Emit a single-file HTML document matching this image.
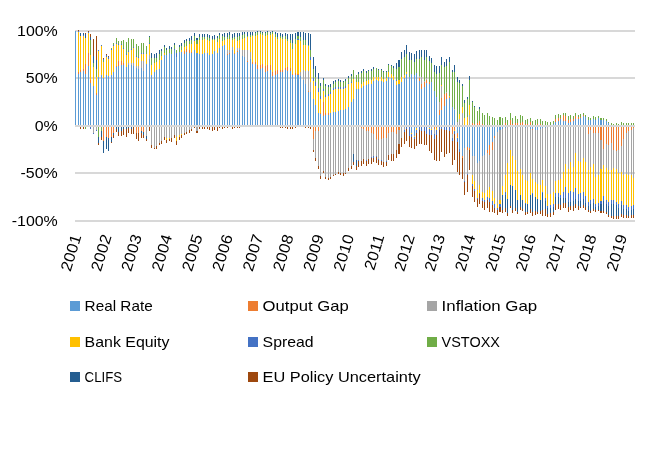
<!DOCTYPE html>
<html><head><meta charset="utf-8"><title>Chart</title>
<style>html,body{margin:0;padding:0;background:#fff}svg{display:block}</style></head>
<body>
<svg width="665" height="449" viewBox="0 0 665 449">
<rect width="665" height="449" fill="#fff"/>
<g fill="#D8D8D8">
<rect x="75" y="30" width="560" height="2"/>
<rect x="75" y="77" width="560" height="2"/>
<rect x="75" y="172" width="560" height="2"/>
<rect x="75" y="220" width="560" height="2"/>
</g>
<path fill="#5B9BD5" d="M75 31h1V125h-1zM78 74h1V125h-1zM80 72h1V125h-1zM83 71h1V125h-1zM85 74h1V125h-1zM88 66h1V125h-1zM90 83h1V125h-1zM93 86h1V125h-1zM96 95h1V125h-1zM98 77h1V125h-1zM101 75h1V125h-1zM103 78h1V125h-1zM106 75h1V125h-1zM108 76h1V125h-1zM111 75h1V125h-1zM113 72h1V125h-1zM116 67h1V125h-1zM118 66h1V125h-1zM121 65h1V125h-1zM123 65h1V125h-1zM126 67h1V125h-1zM128 65h1V125h-1zM131 65h1V125h-1zM133 66h1V125h-1zM136 68h1V125h-1zM138 69h1V125h-1zM141 68h1V125h-1zM143 71h1V125h-1zM146 64h1V125h-1zM149 59h1V125h-1zM151 75h1V125h-1zM154 72h1V125h-1zM156 70h1V125h-1zM159 69h1V125h-1zM161 60h1V125h-1zM164 55h1V125h-1zM166 55h1V125h-1zM169 53h1V125h-1zM171 54h1V125h-1zM174 50h1V125h-1zM176 57h1V125h-1zM179 52h1V125h-1zM181 52h1V125h-1zM184 54h1V125h-1zM186 52h1V125h-1zM189 53h1V125h-1zM191 53h1V125h-1zM194 50h1V125h-1zM196 53h2V125h-2zM199 54h1V125h-1zM202 54h1V125h-1zM204 53h1V125h-1zM207 53h1V125h-1zM209 55h1V125h-1zM212 54h1V125h-1zM214 51h1V125h-1zM217 53h1V125h-1zM219 48h1V125h-1zM222 46h1V125h-1zM224 45h1V125h-1zM227 55h1V125h-1zM229 54h1V125h-1zM232 50h1V125h-1zM234 54h1V125h-1zM237 52h1V125h-1zM239 50h1V125h-1zM242 56h1V125h-1zM244 57h1V125h-1zM247 62h1V125h-1zM250 59h1V125h-1zM252 64h1V125h-1zM255 64h1V125h-1zM257 69h1V125h-1zM260 69h1V125h-1zM262 68h1V125h-1zM265 72h1V125h-1zM267 71h1V125h-1zM270 70h1V125h-1zM272 76h1V125h-1zM275 75h1V125h-1zM277 74h1V125h-1zM280 72h1V125h-1zM282 72h1V125h-1zM285 70h1V125h-1zM287 71h1V125h-1zM290 71h1V125h-1zM292 75h1V125h-1zM295 75h1V125h-1zM297 75h2V125h-2zM300 76h1V125h-1zM303 80h1V125h-1zM305 84h1V125h-1zM308 92h1V125h-1zM310 92h1V125h-1zM313 99h1V125h-1zM315 105h1V125h-1zM318 113h1V125h-1zM320 114h1V125h-1zM323 116h1V125h-1zM325 115h1V125h-1zM328 115h1V125h-1zM330 113h1V125h-1zM333 112h1V125h-1zM335 112h1V125h-1zM338 111h1V125h-1zM340 110h1V125h-1zM343 110h1V125h-1zM345 109h1V125h-1zM348 107h1V125h-1zM351 102h1V125h-1zM353 99h1V125h-1zM356 89h1V125h-1zM358 89h1V125h-1zM361 88h1V125h-1zM363 86h1V125h-1zM366 85h1V125h-1zM368 84h1V125h-1zM371 84h1V125h-1zM373 81h1V125h-1zM376 80h1V125h-1zM378 81h1V125h-1zM381 81h1V125h-1zM383 82h1V125h-1zM386 81h1V125h-1zM388 77h1V125h-1zM391 78h1V125h-1zM393 80h1V125h-1zM396 85h1V125h-1zM398 84h2V125h-2zM401 82h1V125h-1zM404 78h1V125h-1zM406 74h1V125h-1zM409 77h1V125h-1zM411 74h1V125h-1zM411 127h1V133h-1zM414 75h1V125h-1zM414 127h1V136h-1zM416 73h1V125h-1zM416 127h1V128h-1zM419 81h1V125h-1zM421 89h1V125h-1zM424 87h1V125h-1zM426 83h1V125h-1zM429 84h1V125h-1zM429 127h1V128h-1zM431 82h1V125h-1zM434 91h1V125h-1zM436 97h1V125h-1zM439 115h1V125h-1zM441 110h1V125h-1zM444 106h1V125h-1zM446 99h1V125h-1zM449 98h1V125h-1zM452 107h1V125h-1zM454 110h1V125h-1zM457 127h1V133h-1zM459 127h1V149h-1zM462 127h1V156h-1zM464 127h1V148h-1zM467 127h1V147h-1zM469 127h1V148h-1zM472 127h1V156h-1zM474 127h1V156h-1zM477 127h1V163h-1zM479 127h1V161h-1zM482 127h1V156h-1zM484 127h1V155h-1zM487 127h1V150h-1zM489 127h1V145h-1zM492 127h1V142h-1zM494 127h1V136h-1zM497 127h1V132h-1zM499 127h2V130h-2zM502 127h1V129h-1zM505 127h1V128h-1zM515 127h1V128h-1zM525 127h1V128h-1zM530 127h1V129h-1zM532 127h1V129h-1zM535 127h1V130h-1zM537 127h1V130h-1zM540 127h1V129h-1zM542 127h1V128h-1zM545 127h1V128h-1zM553 124h1V125h-1zM555 122h1V125h-1zM558 121h1V125h-1zM560 119h1V125h-1zM563 121h1V125h-1zM565 121h1V125h-1zM568 123h1V125h-1zM570 122h1V125h-1zM573 121h1V125h-1zM575 119h1V125h-1zM578 119h1V125h-1zM580 118h1V125h-1zM583 116h1V125h-1zM585 117h1V125h-1zM588 120h1V125h-1zM590 120h1V125h-1zM593 119h1V125h-1zM595 120h1V125h-1zM598 118h1V125h-1zM600 120h2V125h-2zM603 120h1V125h-1zM606 121h1V125h-1zM608 123h1V125h-1z"/>
<path fill="#ED7D31" d="M78 72h1V74h-1zM80 70h1V72h-1zM83 69h1V71h-1zM85 64h1V74h-1zM88 53h1V66h-1zM90 80h1V83h-1zM96 93h1V95h-1zM103 127h1V141h-1zM106 127h1V137h-1zM108 127h1V138h-1zM111 127h1V137h-1zM113 127h1V133h-1zM116 66h1V67h-1zM118 61h1V66h-1zM121 61h1V65h-1zM123 63h1V65h-1zM136 127h1V133h-1zM138 127h1V133h-1zM141 127h1V131h-1zM143 127h1V132h-1zM184 51h1V54h-1zM186 49h1V52h-1zM189 50h1V53h-1zM191 52h1V53h-1zM227 54h1V55h-1zM229 53h1V54h-1zM234 53h1V54h-1zM237 51h1V52h-1zM247 61h1V62h-1zM252 62h1V64h-1zM255 62h1V64h-1zM257 65h1V69h-1zM260 65h1V69h-1zM262 64h1V68h-1zM265 66h1V72h-1zM267 65h1V71h-1zM270 65h1V70h-1zM272 72h1V76h-1zM275 71h1V75h-1zM277 70h1V74h-1zM280 70h1V72h-1zM282 70h1V72h-1zM285 68h1V70h-1zM287 67h1V71h-1zM290 68h1V71h-1zM292 74h1V75h-1zM295 73h1V75h-1zM297 74h2V75h-2zM308 91h1V92h-1zM313 127h1V139h-1zM315 127h1V131h-1zM318 127h1V131h-1zM320 113h1V114h-1zM323 102h1V116h-1zM325 113h1V115h-1zM328 113h1V115h-1zM361 127h1V128h-1zM363 127h1V129h-1zM366 127h1V131h-1zM368 127h1V131h-1zM371 127h1V133h-1zM373 127h1V134h-1zM376 127h1V139h-1zM378 127h1V140h-1zM381 127h1V139h-1zM383 127h1V138h-1zM386 127h1V138h-1zM388 127h1V133h-1zM391 127h1V132h-1zM393 127h1V132h-1zM396 127h1V134h-1zM398 127h2V130h-2zM419 78h1V81h-1zM421 84h1V89h-1zM424 82h1V87h-1zM426 80h1V83h-1zM429 82h1V84h-1zM434 127h1V129h-1zM436 127h1V128h-1zM439 110h1V115h-1zM441 98h1V110h-1zM444 94h1V106h-1zM446 93h1V99h-1zM449 97h1V98h-1zM452 127h1V134h-1zM454 127h1V130h-1zM457 133h1V137h-1zM462 156h1V158h-1zM467 147h1V150h-1zM469 148h1V150h-1zM472 123h1V125h-1zM474 124h1V125h-1zM477 123h1V125h-1zM479 121h1V125h-1zM482 124h1V125h-1zM487 150h1V153h-1zM489 145h1V155h-1zM492 142h1V150h-1zM494 136h1V138h-1zM505 123h1V125h-1zM510 120h1V125h-1zM512 124h1V125h-1zM515 123h1V125h-1zM517 123h1V125h-1zM520 123h1V125h-1zM522 122h1V125h-1zM525 124h1V125h-1zM527 124h1V125h-1zM530 122h1V125h-1zM532 129h1V130h-1zM537 124h1V125h-1zM540 124h1V125h-1zM555 119h1V122h-1zM558 118h1V121h-1zM560 118h1V119h-1zM563 115h1V121h-1zM565 116h1V121h-1zM568 120h1V123h-1zM570 119h1V122h-1zM573 119h1V121h-1zM575 116h1V119h-1zM578 117h1V119h-1zM580 117h1V118h-1zM583 115h1V116h-1zM588 127h1V134h-1zM590 127h1V130h-1zM593 127h1V133h-1zM595 127h1V133h-1zM598 127h1V133h-1zM600 127h2V140h-2zM603 127h1V149h-1zM606 127h1V144h-1zM608 127h1V145h-1zM611 127h1V143h-1zM613 127h1V150h-1zM616 127h1V151h-1zM618 127h1V150h-1zM621 127h1V146h-1zM623 127h1V139h-1zM626 127h1V133h-1zM628 127h1V131h-1zM631 127h1V130h-1zM633 127h1V128h-1z"/>
<path fill="#A5A5A5" d="M93 127h1V133h-1zM96 127h1V130h-1zM128 63h1V65h-1zM131 63h1V65h-1zM133 63h1V66h-1zM136 66h1V68h-1zM138 66h1V69h-1zM141 61h1V68h-1zM143 61h1V71h-1zM146 127h1V136h-1zM149 55h1V59h-1zM151 127h1V145h-1zM154 127h1V148h-1zM156 127h1V146h-1zM159 127h1V143h-1zM161 127h1V141h-1zM164 127h1V137h-1zM166 127h1V138h-1zM169 127h1V138h-1zM171 127h1V138h-1zM174 127h1V135h-1zM176 127h1V137h-1zM179 127h1V135h-1zM181 127h1V134h-1zM184 127h1V133h-1zM186 127h1V132h-1zM189 127h1V130h-1zM191 127h1V129h-1zM196 127h2V131h-2zM227 50h1V54h-1zM229 50h1V53h-1zM232 47h1V50h-1zM237 48h1V51h-1zM239 48h1V50h-1zM242 50h1V56h-1zM244 50h1V57h-1zM247 50h1V61h-1zM250 52h1V59h-1zM300 72h1V76h-1zM303 70h1V80h-1zM305 71h1V84h-1zM308 71h1V91h-1zM310 82h1V92h-1zM313 139h1V150h-1zM315 131h1V158h-1zM318 131h1V166h-1zM320 127h1V176h-1zM323 127h1V171h-1zM325 127h1V177h-1zM328 127h1V178h-1zM330 127h1V177h-1zM333 127h1V175h-1zM335 127h1V174h-1zM338 127h1V172h-1zM340 127h1V173h-1zM343 127h1V173h-1zM345 127h1V173h-1zM348 127h1V168h-1zM351 127h1V166h-1zM353 127h1V154h-1zM356 127h1V160h-1zM358 127h1V160h-1zM361 128h1V161h-1zM363 129h1V159h-1zM366 131h1V160h-1zM368 131h1V159h-1zM371 133h1V157h-1zM373 134h1V156h-1zM376 139h1V156h-1zM378 140h1V159h-1zM381 139h1V160h-1zM383 138h1V162h-1zM386 138h1V161h-1zM388 133h1V155h-1zM391 132h1V154h-1zM393 132h1V154h-1zM396 134h1V150h-1zM398 130h2V144h-2zM401 127h1V138h-1zM404 127h1V130h-1zM419 76h1V78h-1zM421 77h1V84h-1zM424 81h1V82h-1zM426 78h1V80h-1zM431 127h1V129h-1zM434 129h1V134h-1zM439 102h1V110h-1zM441 86h1V98h-1zM446 92h1V93h-1zM452 134h1V138h-1zM454 109h1V110h-1zM457 122h1V125h-1zM459 119h1V125h-1zM462 113h1V125h-1zM464 148h1V181h-1zM467 150h1V174h-1zM469 115h1V125h-1zM472 156h1V175h-1zM474 156h1V181h-1zM477 163h1V190h-1zM479 161h1V185h-1zM482 156h1V192h-1zM484 155h1V193h-1zM487 153h1V190h-1zM489 155h1V187h-1zM492 150h1V191h-1zM494 138h1V198h-1zM497 132h1V204h-1zM499 130h2V200h-2zM502 129h1V186h-1zM505 128h1V175h-1zM507 127h1V163h-1zM510 127h1V150h-1zM512 127h1V156h-1zM515 128h1V160h-1zM517 127h1V171h-1zM520 127h1V169h-1zM522 127h1V175h-1zM525 128h1V180h-1zM527 127h1V181h-1zM530 129h1V173h-1zM532 130h1V179h-1zM535 130h1V182h-1zM537 130h1V184h-1zM540 129h1V185h-1zM542 128h1V180h-1zM545 128h1V186h-1zM547 127h1V194h-1zM550 127h1V194h-1zM553 127h1V192h-1zM555 127h1V181h-1zM558 127h1V180h-1zM560 127h1V179h-1zM563 127h1V172h-1zM565 127h1V164h-1zM568 127h1V169h-1zM570 127h1V162h-1zM573 127h1V167h-1zM575 127h1V153h-1zM578 127h1V161h-1zM580 127h1V162h-1zM583 127h1V158h-1zM585 127h1V162h-1zM588 134h1V170h-1zM590 130h1V167h-1zM593 133h1V164h-1zM595 133h1V177h-1zM598 133h1V175h-1zM600 140h2V169h-2zM603 149h1V165h-1zM606 144h1V168h-1zM608 145h1V170h-1zM611 143h1V170h-1zM613 150h1V168h-1zM616 151h1V169h-1zM618 150h1V173h-1zM621 146h1V172h-1zM623 139h1V175h-1zM626 133h1V174h-1zM628 131h1V175h-1zM631 130h1V175h-1zM633 128h1V178h-1z"/>
<path fill="#FFC000" d="M78 32h1V72h-1zM80 36h1V70h-1zM83 36h1V69h-1zM85 38h1V64h-1zM88 33h1V53h-1zM90 55h1V80h-1zM93 67h1V86h-1zM96 77h1V93h-1zM98 51h1V77h-1zM101 46h1V75h-1zM103 62h1V78h-1zM106 57h1V75h-1zM108 59h1V76h-1zM111 50h1V75h-1zM113 46h1V72h-1zM116 44h1V66h-1zM118 45h1V61h-1zM121 45h1V61h-1zM123 49h1V63h-1zM126 55h1V67h-1zM128 52h1V63h-1zM131 50h1V63h-1zM133 48h1V63h-1zM136 57h1V66h-1zM138 58h1V66h-1zM141 54h1V61h-1zM143 54h1V61h-1zM146 54h1V64h-1zM149 44h1V55h-1zM151 65h1V75h-1zM154 63h1V72h-1zM156 62h1V70h-1zM159 60h1V69h-1zM161 56h1V60h-1zM164 53h1V55h-1zM166 138h1V140h-1zM169 138h1V139h-1zM176 137h1V141h-1zM179 135h1V137h-1zM181 50h1V52h-1zM181 134h1V135h-1zM184 47h1V51h-1zM186 46h1V49h-1zM189 44h1V50h-1zM191 44h1V52h-1zM194 41h1V50h-1zM196 44h2V53h-2zM199 40h1V54h-1zM202 40h1V54h-1zM204 39h1V53h-1zM207 40h1V53h-1zM209 41h1V55h-1zM212 40h1V54h-1zM214 40h1V51h-1zM217 42h1V53h-1zM219 39h1V48h-1zM222 41h1V46h-1zM224 40h1V45h-1zM227 39h1V50h-1zM229 39h1V50h-1zM232 40h1V47h-1zM234 39h1V53h-1zM237 41h1V48h-1zM239 40h1V48h-1zM242 39h1V50h-1zM244 38h1V50h-1zM247 37h1V50h-1zM250 37h1V52h-1zM252 36h1V62h-1zM255 36h1V62h-1zM257 35h1V65h-1zM260 34h1V65h-1zM262 35h1V64h-1zM265 36h1V66h-1zM267 35h1V65h-1zM270 35h1V65h-1zM272 34h1V72h-1zM275 37h1V71h-1zM277 39h1V70h-1zM280 38h1V70h-1zM282 39h1V70h-1zM285 39h1V68h-1zM287 41h1V67h-1zM290 43h1V68h-1zM292 49h1V74h-1zM295 44h1V73h-1zM297 40h2V74h-2zM300 41h1V72h-1zM303 45h1V70h-1zM305 45h1V71h-1zM308 46h1V71h-1zM310 60h1V82h-1zM313 81h1V99h-1zM315 86h1V105h-1zM318 92h1V113h-1zM320 99h1V113h-1zM323 91h1V102h-1zM325 97h1V113h-1zM328 96h1V113h-1zM330 94h1V113h-1zM333 90h1V112h-1zM335 89h1V112h-1zM338 89h1V111h-1zM340 89h1V110h-1zM343 89h1V110h-1zM345 88h1V109h-1zM348 84h1V107h-1zM351 83h1V102h-1zM353 79h1V99h-1zM356 82h1V89h-1zM358 82h1V89h-1zM361 84h1V88h-1zM363 82h1V86h-1zM366 81h1V85h-1zM368 80h1V84h-1zM371 80h1V84h-1zM373 77h1V81h-1zM376 77h1V80h-1zM378 77h1V81h-1zM381 77h1V81h-1zM383 79h1V82h-1zM386 78h1V81h-1zM388 72h1V77h-1zM391 74h1V78h-1zM393 76h1V80h-1zM396 81h1V85h-1zM398 80h2V84h-2zM401 77h1V82h-1zM404 75h1V78h-1zM406 72h1V74h-1zM411 133h1V134h-1zM414 136h1V137h-1zM416 128h1V130h-1zM429 128h1V129h-1zM431 129h1V130h-1zM436 128h1V130h-1zM441 85h1V86h-1zM449 96h1V97h-1zM454 130h1V131h-1zM457 137h1V138h-1zM459 114h1V119h-1zM462 107h1V113h-1zM464 118h1V125h-1zM467 117h1V125h-1zM469 105h1V115h-1zM472 175h1V184h-1zM474 181h1V189h-1zM477 190h1V198h-1zM479 185h1V193h-1zM482 192h1V198h-1zM484 193h1V200h-1zM487 190h1V197h-1zM489 187h1V198h-1zM492 191h1V201h-1zM494 198h1V204h-1zM497 204h1V208h-1zM499 200h2V204h-2zM502 186h1V195h-1zM505 175h1V192h-1zM507 163h1V199h-1zM510 150h1V185h-1zM512 156h1V186h-1zM515 160h1V190h-1zM517 171h1V200h-1zM520 169h1V195h-1zM522 175h1V200h-1zM525 180h1V203h-1zM527 181h1V204h-1zM530 173h1V195h-1zM532 179h1V193h-1zM535 182h1V197h-1zM537 184h1V199h-1zM540 185h1V200h-1zM542 180h1V192h-1zM545 186h1V198h-1zM547 194h1V206h-1zM550 194h1V205h-1zM553 192h1V204h-1zM555 181h1V193h-1zM558 180h1V193h-1zM560 179h1V195h-1zM563 172h1V192h-1zM565 164h1V187h-1zM568 169h1V193h-1zM570 162h1V191h-1zM573 167h1V192h-1zM575 153h1V188h-1zM578 161h1V194h-1zM580 162h1V193h-1zM583 158h1V192h-1zM585 162h1V196h-1zM588 170h1V202h-1zM590 167h1V200h-1zM593 164h1V199h-1zM595 177h1V204h-1zM598 175h1V203h-1zM600 169h2V201h-2zM603 165h1V196h-1zM606 168h1V200h-1zM608 170h1V202h-1zM611 170h1V200h-1zM613 168h1V200h-1zM616 169h1V202h-1zM618 173h1V204h-1zM621 172h1V201h-1zM623 175h1V205h-1zM626 174h1V205h-1zM628 175h1V207h-1zM631 175h1V206h-1zM633 178h1V205h-1z"/>
<path fill="#4472C4" d="M78 31h1V32h-1zM83 35h1V36h-1zM88 32h1V33h-1zM90 127h1V129h-1zM93 133h1V134h-1zM96 130h1V131h-1zM98 50h1V51h-1zM101 45h1V46h-1zM103 59h1V60h-1zM106 55h1V57h-1zM108 57h1V59h-1zM111 49h1V50h-1zM113 45h1V46h-1zM116 43h1V44h-1zM118 44h1V45h-1zM121 44h1V45h-1zM123 48h1V49h-1zM126 54h1V55h-1zM128 51h1V52h-1zM131 49h1V50h-1zM133 47h1V48h-1zM136 56h1V57h-1zM138 57h1V58h-1zM141 53h1V54h-1zM143 53h1V54h-1zM149 43h1V44h-1zM174 49h1V50h-1zM176 53h1V57h-1zM194 40h1V41h-1zM297 39h2V40h-2zM310 57h1V60h-1zM313 78h1V81h-1zM315 82h1V86h-1zM318 88h1V92h-1zM320 96h1V99h-1zM323 89h1V91h-1zM325 95h1V97h-1zM328 94h1V96h-1zM330 92h1V94h-1zM333 88h1V90h-1zM335 87h1V89h-1zM338 87h1V89h-1zM340 87h1V89h-1zM343 87h1V89h-1zM345 86h1V88h-1zM348 83h1V84h-1zM351 82h1V83h-1zM358 160h1V161h-1zM366 160h1V161h-1zM371 157h1V158h-1zM373 156h1V158h-1zM376 156h1V157h-1zM378 159h1V160h-1zM381 160h1V161h-1zM386 161h1V162h-1zM396 80h1V81h-1zM404 130h1V132h-1zM406 127h1V129h-1zM409 127h1V136h-1zM411 134h1V137h-1zM414 137h1V139h-1zM416 130h1V133h-1zM419 127h1V130h-1zM421 127h1V131h-1zM424 127h1V131h-1zM426 127h1V134h-1zM429 129h1V135h-1zM431 130h1V135h-1zM434 134h1V139h-1zM436 130h1V135h-1zM439 127h1V130h-1zM441 127h1V129h-1zM444 127h1V130h-1zM446 127h1V130h-1zM449 127h1V131h-1zM452 138h1V141h-1zM454 131h1V134h-1zM457 138h1V142h-1zM459 149h1V152h-1zM464 181h1V182h-1zM467 174h1V175h-1zM472 184h1V186h-1zM474 189h1V191h-1zM477 198h1V199h-1zM479 193h1V194h-1zM482 198h1V201h-1zM484 200h1V202h-1zM487 197h1V200h-1zM489 198h1V202h-1zM492 201h1V205h-1zM494 204h1V208h-1zM497 208h1V210h-1zM499 204h2V207h-2zM505 192h1V195h-1zM525 203h1V204h-1zM532 193h1V194h-1zM542 192h1V193h-1zM545 198h1V201h-1zM547 206h1V208h-1zM550 205h1V208h-1zM553 204h1V207h-1zM555 193h1V197h-1zM558 193h1V197h-1zM560 195h1V198h-1zM563 192h1V198h-1zM565 187h1V198h-1zM568 193h1V202h-1zM570 191h1V202h-1zM573 192h1V201h-1zM575 188h1V199h-1zM578 194h1V201h-1zM580 193h1V201h-1zM583 192h1V199h-1zM585 196h1V203h-1zM588 202h1V206h-1zM590 200h1V204h-1zM593 199h1V203h-1zM595 204h1V207h-1zM598 203h1V206h-1zM600 201h2V204h-2zM603 196h1V201h-1zM606 200h1V204h-1zM608 202h1V206h-1zM611 200h1V204h-1zM613 200h1V204h-1zM616 202h1V205h-1zM618 204h1V208h-1zM621 201h1V205h-1zM623 205h1V209h-1zM626 205h1V209h-1zM628 207h1V211h-1zM631 206h1V210h-1zM633 205h1V209h-1z"/>
<path fill="#70AD47" d="M85 127h1V129h-1zM90 40h1V55h-1zM93 63h1V67h-1zM96 69h1V77h-1zM98 127h1V137h-1zM101 127h1V131h-1zM103 60h1V62h-1zM111 48h1V49h-1zM113 43h1V45h-1zM116 38h1V43h-1zM118 41h1V44h-1zM121 41h1V44h-1zM123 40h1V48h-1zM126 42h1V54h-1zM128 38h1V51h-1zM131 39h1V49h-1zM133 39h1V47h-1zM136 44h1V56h-1zM138 46h1V57h-1zM141 43h1V53h-1zM143 43h1V53h-1zM146 46h1V54h-1zM149 37h1V43h-1zM151 58h1V65h-1zM154 58h1V63h-1zM156 58h1V62h-1zM159 54h1V60h-1zM161 51h1V56h-1zM164 47h1V53h-1zM166 50h1V55h-1zM169 49h1V53h-1zM171 49h1V54h-1zM174 45h1V49h-1zM176 50h1V53h-1zM179 47h1V52h-1zM181 46h1V50h-1zM184 43h1V47h-1zM186 41h1V46h-1zM189 41h1V44h-1zM191 40h1V44h-1zM194 36h1V40h-1zM196 40h2V44h-2zM199 37h1V40h-1zM202 37h1V40h-1zM204 37h1V39h-1zM207 37h1V40h-1zM209 38h1V41h-1zM212 39h1V40h-1zM214 39h1V40h-1zM217 38h1V42h-1zM219 35h1V39h-1zM222 36h1V41h-1zM224 37h1V40h-1zM227 37h1V39h-1zM229 35h1V39h-1zM232 38h1V40h-1zM234 37h1V39h-1zM237 37h1V41h-1zM239 36h1V40h-1zM242 35h1V39h-1zM244 34h1V38h-1zM247 36h1V37h-1zM250 35h1V37h-1zM252 35h1V36h-1zM255 33h1V36h-1zM257 32h1V35h-1zM260 32h1V34h-1zM262 33h1V35h-1zM265 33h1V36h-1zM267 32h1V35h-1zM270 33h1V35h-1zM272 32h1V34h-1zM275 34h1V37h-1zM277 37h1V39h-1zM280 36h1V38h-1zM282 37h1V39h-1zM285 36h1V39h-1zM287 39h1V41h-1zM290 40h1V43h-1zM292 43h1V49h-1zM295 39h1V44h-1zM297 36h2V39h-2zM300 37h1V41h-1zM303 40h1V45h-1zM305 40h1V45h-1zM308 45h1V46h-1zM310 50h1V57h-1zM313 69h1V78h-1zM315 77h1V82h-1zM318 79h1V88h-1zM320 86h1V96h-1zM323 80h1V89h-1zM325 86h1V95h-1zM328 87h1V94h-1zM330 87h1V92h-1zM333 84h1V88h-1zM335 82h1V87h-1zM338 81h1V87h-1zM340 82h1V87h-1zM343 82h1V87h-1zM345 81h1V86h-1zM348 78h1V83h-1zM351 76h1V82h-1zM353 70h1V79h-1zM356 75h1V82h-1zM358 74h1V82h-1zM361 73h1V84h-1zM363 71h1V82h-1zM366 73h1V81h-1zM368 71h1V80h-1zM371 71h1V80h-1zM373 69h1V77h-1zM376 68h1V77h-1zM378 70h1V77h-1zM381 70h1V77h-1zM383 72h1V79h-1zM386 72h1V78h-1zM388 65h1V72h-1zM391 66h1V74h-1zM393 68h1V76h-1zM396 69h1V80h-1zM398 67h2V80h-2zM401 59h1V77h-1zM404 57h1V75h-1zM406 54h1V72h-1zM409 60h1V77h-1zM411 60h1V74h-1zM414 62h1V75h-1zM416 59h1V73h-1zM419 59h1V76h-1zM421 57h1V77h-1zM424 60h1V81h-1zM426 57h1V78h-1zM429 61h1V82h-1zM431 63h1V82h-1zM434 72h1V91h-1zM436 74h1V97h-1zM439 73h1V102h-1zM441 65h1V85h-1zM444 67h1V94h-1zM446 66h1V92h-1zM449 62h1V96h-1zM452 72h1V107h-1zM454 72h1V109h-1zM457 82h1V122h-1zM459 83h1V114h-1zM462 86h1V107h-1zM464 103h1V118h-1zM467 99h1V117h-1zM469 80h1V105h-1zM472 102h1V123h-1zM474 107h1V124h-1zM477 111h1V123h-1zM479 109h1V121h-1zM482 113h1V124h-1zM484 115h1V125h-1zM487 113h1V125h-1zM489 116h1V125h-1zM492 117h1V125h-1zM494 118h1V125h-1zM497 120h1V125h-1zM499 117h2V125h-2zM502 118h1V125h-1zM505 117h1V123h-1zM507 120h1V125h-1zM510 113h1V120h-1zM512 118h1V124h-1zM515 116h1V123h-1zM517 119h1V123h-1zM520 115h1V123h-1zM522 116h1V122h-1zM525 120h1V124h-1zM527 119h1V124h-1zM530 118h1V122h-1zM532 121h1V125h-1zM535 120h1V125h-1zM537 119h1V124h-1zM540 119h1V124h-1zM542 121h1V125h-1zM545 121h1V125h-1zM547 122h1V125h-1zM550 122h1V125h-1zM553 121h1V124h-1zM555 115h1V119h-1zM558 114h1V118h-1zM560 115h1V118h-1zM563 113h1V115h-1zM565 113h1V116h-1zM568 116h1V120h-1zM570 115h1V119h-1zM573 116h1V119h-1zM575 113h1V116h-1zM578 115h1V117h-1zM580 114h1V117h-1zM583 113h1V115h-1zM585 115h1V117h-1zM588 117h1V120h-1zM590 118h1V120h-1zM593 116h1V119h-1zM595 117h1V120h-1zM598 116h1V118h-1zM600 118h2V120h-2zM603 118h1V120h-1zM606 119h1V121h-1zM608 122h1V123h-1zM611 123h1V125h-1zM613 124h1V125h-1zM616 123h1V125h-1zM618 124h1V125h-1zM621 122h1V125h-1zM623 123h1V125h-1zM626 123h1V125h-1zM628 123h1V125h-1zM631 123h1V125h-1zM633 123h1V125h-1z"/>
<path fill="#255E91" d="M80 33h1V36h-1zM83 33h1V35h-1zM85 34h1V38h-1zM90 37h1V40h-1zM93 56h1V63h-1zM96 60h1V69h-1zM98 137h1V143h-1zM101 131h1V137h-1zM103 141h1V153h-1zM106 137h1V149h-1zM108 138h1V151h-1zM111 137h1V142h-1zM113 133h1V135h-1zM116 127h1V129h-1zM118 127h1V132h-1zM121 127h1V131h-1zM123 127h1V129h-1zM126 127h1V129h-1zM128 127h1V128h-1zM131 127h1V129h-1zM141 131h1V133h-1zM143 132h1V135h-1zM146 136h1V139h-1zM149 36h1V37h-1zM151 53h1V58h-1zM154 54h1V58h-1zM156 53h1V58h-1zM159 50h1V54h-1zM161 49h1V51h-1zM164 45h1V47h-1zM166 48h1V50h-1zM169 46h1V49h-1zM171 47h1V49h-1zM174 43h1V45h-1zM179 45h1V47h-1zM181 43h1V46h-1zM184 40h1V43h-1zM186 39h1V41h-1zM189 38h1V41h-1zM191 36h1V40h-1zM194 33h1V36h-1zM196 38h2V40h-2zM199 34h1V37h-1zM202 34h1V37h-1zM204 34h1V37h-1zM207 34h1V37h-1zM209 35h1V38h-1zM212 36h1V39h-1zM214 35h1V39h-1zM217 36h1V38h-1zM219 33h1V35h-1zM222 34h1V36h-1zM224 33h1V37h-1zM227 33h1V37h-1zM229 32h1V35h-1zM232 34h1V38h-1zM234 33h1V37h-1zM237 33h1V37h-1zM239 33h1V36h-1zM242 32h1V35h-1zM244 32h1V34h-1zM247 32h1V36h-1zM250 32h1V35h-1zM252 32h1V35h-1zM255 32h1V33h-1zM257 31h1V32h-1zM260 31h1V32h-1zM262 32h1V33h-1zM265 32h1V33h-1zM267 31h1V32h-1zM270 32h1V33h-1zM272 31h1V32h-1zM275 32h1V34h-1zM277 33h1V37h-1zM280 33h1V36h-1zM282 34h1V37h-1zM285 33h1V36h-1zM287 34h1V39h-1zM290 34h1V40h-1zM292 34h1V43h-1zM295 33h1V39h-1zM297 32h2V36h-2zM300 32h1V37h-1zM303 32h1V40h-1zM305 33h1V40h-1zM308 33h1V45h-1zM310 34h1V50h-1zM313 57h1V69h-1zM315 66h1V77h-1zM318 73h1V79h-1zM320 83h1V86h-1zM323 78h1V80h-1zM325 84h1V86h-1zM328 85h1V87h-1zM330 84h1V87h-1zM333 81h1V84h-1zM335 80h1V82h-1zM338 79h1V81h-1zM340 80h1V82h-1zM343 81h1V82h-1zM345 79h1V81h-1zM348 76h1V78h-1zM351 74h1V76h-1zM353 154h1V162h-1zM356 160h1V166h-1zM358 72h1V74h-1zM361 71h1V73h-1zM363 69h1V71h-1zM366 71h1V73h-1zM368 70h1V71h-1zM371 69h1V71h-1zM373 67h1V69h-1zM378 69h1V70h-1zM381 69h1V70h-1zM383 71h1V72h-1zM386 71h1V72h-1zM388 64h1V65h-1zM391 65h1V66h-1zM393 66h1V68h-1zM396 63h1V69h-1zM398 60h2V67h-2zM401 52h1V59h-1zM404 50h1V57h-1zM406 45h1V54h-1zM409 52h1V60h-1zM411 53h1V60h-1zM414 54h1V62h-1zM416 51h1V59h-1zM419 50h1V59h-1zM421 50h1V57h-1zM424 50h1V60h-1zM426 50h1V57h-1zM429 56h1V61h-1zM431 58h1V63h-1zM434 65h1V72h-1zM436 66h1V74h-1zM439 66h1V73h-1zM441 57h1V65h-1zM444 62h1V67h-1zM446 59h1V66h-1zM449 57h1V62h-1zM452 70h1V72h-1zM454 65h1V72h-1zM457 77h1V82h-1zM459 80h1V83h-1zM462 84h1V86h-1zM464 100h1V103h-1zM467 97h1V99h-1zM469 76h1V80h-1zM472 101h1V102h-1zM474 106h1V107h-1zM479 107h1V109h-1zM502 195h1V210h-1zM505 195h1V208h-1zM507 199h1V213h-1zM510 185h1V206h-1zM512 186h1V210h-1zM515 190h1V208h-1zM517 200h1V212h-1zM520 195h1V207h-1zM522 200h1V209h-1zM525 204h1V212h-1zM527 204h1V212h-1zM530 195h1V209h-1zM532 194h1V212h-1zM535 197h1V211h-1zM537 199h1V212h-1zM540 200h1V211h-1zM542 193h1V210h-1zM545 201h1V209h-1zM547 208h1V214h-1zM550 208h1V213h-1zM553 207h1V212h-1zM555 197h1V204h-1zM558 197h1V204h-1zM560 198h1V205h-1zM563 198h1V203h-1zM565 198h1V203h-1zM568 202h1V207h-1zM570 202h1V206h-1zM573 201h1V206h-1zM575 199h1V204h-1zM578 201h1V206h-1zM580 201h1V207h-1zM583 199h1V205h-1zM585 203h1V207h-1zM588 206h1V210h-1zM590 204h1V211h-1zM593 203h1V209h-1zM595 207h1V210h-1zM598 206h1V210h-1zM600 204h2V211h-2zM603 201h1V211h-1zM606 204h1V212h-1zM608 206h1V215h-1zM611 204h1V216h-1zM613 204h1V216h-1zM616 205h1V216h-1zM618 208h1V216h-1zM621 205h1V214h-1zM623 209h1V215h-1zM626 209h1V215h-1zM628 211h1V216h-1zM631 210h1V215h-1zM633 209h1V215h-1z"/>
<path fill="#9E480E" d="M78 30h1V31h-1zM80 127h1V129h-1zM83 127h1V129h-1zM85 33h1V34h-1zM88 31h1V32h-1zM90 34h1V37h-1zM93 39h1V56h-1zM96 36h1V60h-1zM98 143h1V145h-1zM101 137h1V140h-1zM103 58h1V59h-1zM106 54h1V55h-1zM108 56h1V57h-1zM111 142h1V143h-1zM113 135h1V138h-1zM116 129h1V132h-1zM118 132h1V136h-1zM121 131h1V136h-1zM123 129h1V135h-1zM126 129h1V137h-1zM128 128h1V133h-1zM131 129h1V134h-1zM133 127h1V134h-1zM136 133h1V139h-1zM138 133h1V141h-1zM141 133h1V138h-1zM143 135h1V138h-1zM146 139h1V141h-1zM149 127h1V131h-1zM151 145h1V148h-1zM154 148h1V149h-1zM156 146h1V149h-1zM159 143h1V145h-1zM161 141h1V144h-1zM164 137h1V140h-1zM166 140h1V143h-1zM169 139h1V141h-1zM171 138h1V142h-1zM174 135h1V138h-1zM176 141h1V145h-1zM179 137h1V140h-1zM181 135h1V138h-1zM184 133h1V135h-1zM186 132h1V134h-1zM189 130h1V133h-1zM191 129h1V131h-1zM194 127h1V128h-1zM196 131h2V133h-2zM199 127h1V129h-1zM202 127h1V129h-1zM204 127h1V129h-1zM207 127h1V129h-1zM209 127h1V130h-1zM212 127h1V131h-1zM214 127h1V130h-1zM217 127h1V131h-1zM219 127h1V128h-1zM222 127h1V129h-1zM224 127h1V128h-1zM227 127h1V128h-1zM232 127h1V129h-1zM234 127h1V128h-1zM237 127h1V128h-1zM239 127h1V128h-1zM280 127h1V128h-1zM282 127h1V128h-1zM285 127h1V128h-1zM287 127h1V129h-1zM290 127h1V129h-1zM292 127h1V129h-1zM295 127h1V128h-1zM305 127h1V128h-1zM308 127h1V128h-1zM310 127h1V129h-1zM313 150h1V152h-1zM315 158h1V161h-1zM318 166h1V169h-1zM320 176h1V179h-1zM323 171h1V173h-1zM325 177h1V179h-1zM328 178h1V180h-1zM330 177h1V179h-1zM333 175h1V176h-1zM335 174h1V175h-1zM338 172h1V174h-1zM340 173h1V175h-1zM343 173h1V176h-1zM345 173h1V174h-1zM348 168h1V171h-1zM351 166h1V169h-1zM353 162h1V165h-1zM356 166h1V170h-1zM358 161h1V167h-1zM361 161h1V166h-1zM363 159h1V164h-1zM366 161h1V166h-1zM368 159h1V164h-1zM371 158h1V164h-1zM373 158h1V162h-1zM376 157h1V163h-1zM378 160h1V165h-1zM381 161h1V165h-1zM383 162h1V167h-1zM386 162h1V166h-1zM388 155h1V160h-1zM391 154h1V161h-1zM393 154h1V161h-1zM396 150h1V158h-1zM398 144h2V154h-2zM401 138h1V147h-1zM404 132h1V144h-1zM406 129h1V141h-1zM409 136h1V147h-1zM411 137h1V148h-1zM414 139h1V149h-1zM416 133h1V146h-1zM419 130h1V144h-1zM421 131h1V144h-1zM424 131h1V145h-1zM426 134h1V145h-1zM429 135h1V151h-1zM431 135h1V153h-1zM434 139h1V160h-1zM436 135h1V161h-1zM439 130h1V161h-1zM441 129h1V152h-1zM444 130h1V157h-1zM446 130h1V154h-1zM449 131h1V153h-1zM452 141h1V165h-1zM454 134h1V160h-1zM457 142h1V172h-1zM459 152h1V175h-1zM462 158h1V179h-1zM464 182h1V195h-1zM467 175h1V192h-1zM469 150h1V170h-1zM472 186h1V197h-1zM474 191h1V202h-1zM477 199h1V207h-1zM479 194h1V204h-1zM482 201h1V208h-1zM484 202h1V210h-1zM487 200h1V208h-1zM489 202h1V212h-1zM492 205h1V212h-1zM494 208h1V213h-1zM497 210h1V215h-1zM499 207h2V212h-2zM502 210h1V213h-1zM505 208h1V212h-1zM507 213h1V216h-1zM510 206h1V208h-1zM512 210h1V213h-1zM515 208h1V211h-1zM517 212h1V214h-1zM520 207h1V210h-1zM522 209h1V211h-1zM525 212h1V215h-1zM527 212h1V214h-1zM530 209h1V213h-1zM532 212h1V216h-1zM535 211h1V215h-1zM537 212h1V214h-1zM540 211h1V214h-1zM542 210h1V216h-1zM545 209h1V216h-1zM547 214h1V217h-1zM550 213h1V217h-1zM553 212h1V215h-1zM555 204h1V210h-1zM558 204h1V209h-1zM560 205h1V210h-1zM563 203h1V208h-1zM565 203h1V208h-1zM568 207h1V212h-1zM570 206h1V210h-1zM573 206h1V211h-1zM575 204h1V208h-1zM578 206h1V210h-1zM580 207h1V208h-1zM583 205h1V208h-1zM585 207h1V210h-1zM588 210h1V212h-1zM590 211h1V213h-1zM593 209h1V211h-1zM595 210h1V212h-1zM598 210h1V211h-1zM600 211h2V213h-2zM603 211h1V213h-1zM606 212h1V214h-1zM608 215h1V217h-1zM611 216h1V218h-1zM613 216h1V219h-1zM616 216h1V219h-1zM618 216h1V219h-1zM621 214h1V217h-1zM623 215h1V218h-1zM626 215h1V218h-1zM628 216h1V218h-1zM631 215h1V218h-1zM633 215h1V218h-1z"/>
<rect x="75" y="125" width="560" height="2" fill="#D8D8D8"/>
<g font-family="'Liberation Sans', Arial, sans-serif" font-size="15.5" fill="#000">
<text transform="translate(57.8 35.5) scale(1.03 1)" text-anchor="end">100%</text>
<text transform="translate(57.8 83) scale(1.03 1)" text-anchor="end">50%</text>
<text transform="translate(57.8 130.5) scale(1.03 1)" text-anchor="end">0%</text>
<text transform="translate(57.8 178) scale(1.03 1)" text-anchor="end">-50%</text>
<text transform="translate(57.8 225.5) scale(1.03 1)" text-anchor="end">-100%</text>
<text transform="translate(81.4 236.4) rotate(-73) scale(1.085 1)" text-anchor="end">2001</text>
<text transform="translate(111.72 236.4) rotate(-73) scale(1.085 1)" text-anchor="end">2002</text>
<text transform="translate(142.04 236.4) rotate(-73) scale(1.085 1)" text-anchor="end">2003</text>
<text transform="translate(172.36 236.4) rotate(-73) scale(1.085 1)" text-anchor="end">2004</text>
<text transform="translate(202.68 236.4) rotate(-73) scale(1.085 1)" text-anchor="end">2005</text>
<text transform="translate(233 236.4) rotate(-73) scale(1.085 1)" text-anchor="end">2006</text>
<text transform="translate(263.32 236.4) rotate(-73) scale(1.085 1)" text-anchor="end">2007</text>
<text transform="translate(293.64 236.4) rotate(-73) scale(1.085 1)" text-anchor="end">2008</text>
<text transform="translate(323.96 236.4) rotate(-73) scale(1.085 1)" text-anchor="end">2009</text>
<text transform="translate(354.28 236.4) rotate(-73) scale(1.085 1)" text-anchor="end">2010</text>
<text transform="translate(384.6 236.4) rotate(-73) scale(1.085 1)" text-anchor="end">2011</text>
<text transform="translate(414.92 236.4) rotate(-73) scale(1.085 1)" text-anchor="end">2012</text>
<text transform="translate(445.24 236.4) rotate(-73) scale(1.085 1)" text-anchor="end">2013</text>
<text transform="translate(475.56 236.4) rotate(-73) scale(1.085 1)" text-anchor="end">2014</text>
<text transform="translate(505.88 236.4) rotate(-73) scale(1.085 1)" text-anchor="end">2015</text>
<text transform="translate(536.2 236.4) rotate(-73) scale(1.085 1)" text-anchor="end">2016</text>
<text transform="translate(566.52 236.4) rotate(-73) scale(1.085 1)" text-anchor="end">2017</text>
<text transform="translate(596.84 236.4) rotate(-73) scale(1.085 1)" text-anchor="end">2018</text>
<text transform="translate(627.16 236.4) rotate(-73) scale(1.085 1)" text-anchor="end">2019</text>
</g>
<g font-family="'Liberation Sans', Arial, sans-serif" font-size="14.6" fill="#000">
<rect x="70" y="301" width="10" height="10" fill="#5B9BD5"/>
<text x="84.6" y="310.6" textLength="68.1" lengthAdjust="spacingAndGlyphs">Real Rate</text>
<rect x="248" y="301" width="10" height="10" fill="#ED7D31"/>
<text x="262.6" y="310.6" textLength="86.1" lengthAdjust="spacingAndGlyphs">Output Gap</text>
<rect x="427" y="301" width="10" height="10" fill="#A5A5A5"/>
<text x="441.6" y="310.6" textLength="95.6" lengthAdjust="spacingAndGlyphs">Inflation Gap</text>
<rect x="70" y="337" width="10" height="10" fill="#FFC000"/>
<text x="84.6" y="346.6" textLength="84.9" lengthAdjust="spacingAndGlyphs">Bank Equity</text>
<rect x="248" y="337" width="10" height="10" fill="#4472C4"/>
<text x="262.6" y="346.6" textLength="51" lengthAdjust="spacingAndGlyphs">Spread</text>
<rect x="427" y="337" width="10" height="10" fill="#70AD47"/>
<text x="441.6" y="346.6" textLength="58.3" lengthAdjust="spacingAndGlyphs">VSTOXX</text>
<rect x="70" y="372" width="10" height="10" fill="#255E91"/>
<text x="84.6" y="381.6" textLength="37.5" lengthAdjust="spacingAndGlyphs">CLIFS</text>
<rect x="248" y="372" width="10" height="10" fill="#9E480E"/>
<text x="262.6" y="381.6" textLength="158" lengthAdjust="spacingAndGlyphs">EU Policy Uncertainty</text>
</g>
</svg>
</body></html>
